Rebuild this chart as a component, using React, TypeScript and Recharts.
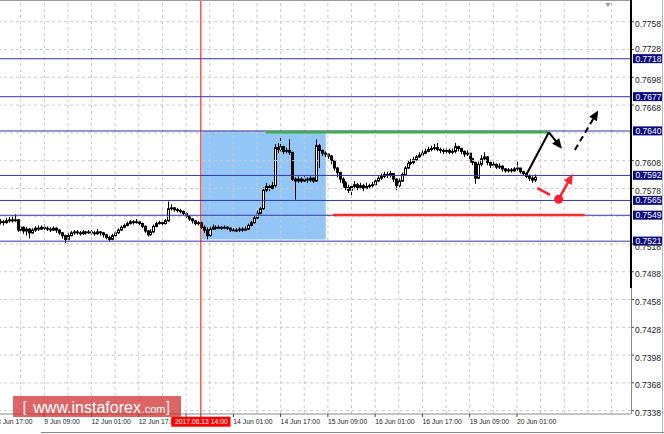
import React from "react";
import {
  ComposedChart,
  Bar,
  XAxis,
  YAxis,
  ReferenceLine,
  ReferenceArea,
  ReferenceDot,
} from "recharts";

const FONT = "'Liberation Sans', Arial, sans-serif";

// ---------- DATA (prices as pips above 0.7500) ----------
const BASE_PRICE = 0.75;
const FIRST_BAR = 1; // bar index 0 = 8 Jun 17:00 (H1 bars)
const FIRST_OPEN = 41;

const closePips = [
  42, 41, 43, 44, 43, 44, 33, 36, 32, 34,
  30, 33, 35, 34, 36, 35, 34, 33, 35, 33,
  30, 27, 23, 27, 30, 31, 30, 29, 31, 30,
  31, 30, 29, 31, 30, 28, 25, 23, 27, 30,
  33, 36, 38, 40, 42, 41, 42, 40, 37, 32,
  28, 31, 37, 40, 41, 40, 43, 56, 57, 55,
  54, 53, 51, 48, 45, 43, 40, 41, 36, 33,
  27, 34, 36, 35, 36, 35, 36, 35, 33, 32,
  33, 34, 33, 34, 38, 41, 46, 51, 56, 76,
  80, 78, 81, 122, 120, 123, 118, 119, 117, 88,
  86, 88, 86, 88, 87, 89, 86, 124, 119, 116,
  115, 113, 108, 100, 95, 88, 84, 79, 76, 80,
  82, 79, 81, 78, 80, 81, 82, 86, 89, 91,
  93, 92, 94, 88, 81, 86, 93, 100, 105, 106,
  109, 112, 114, 116, 118, 120, 121, 122, 120, 119,
  118, 119, 117, 118, 123, 121, 118, 115, 116, 110,
  106, 89, 104, 110, 112, 106, 103, 104, 101, 102,
  99, 97, 98, 97, 99, 100, 96, 94, 91, 89,
  87, 90,
];

const highPips = [
  45, 44, 46, 47, 49, 50, 45, 38, 37, 36,
  35, 35, 37, 38, 38, 39, 37, 36, 37, 36,
  34, 31, 28, 30, 32, 33, 33, 32, 33, 32,
  33, 33, 32, 34, 32, 31, 29, 27, 29, 32,
  35, 38, 40, 42, 44, 44, 45, 43, 41, 38,
  33, 34, 39, 42, 43, 43, 45, 64, 61, 58,
  57, 56, 54, 52, 49, 46, 44, 43, 42, 38,
  36, 37, 39, 38, 38, 37, 38, 37, 36, 35,
  35, 36, 36, 37, 40, 43, 48, 54, 58, 79,
  84, 82, 85, 126, 127, 135, 124, 122, 131, 117,
  90, 91, 90, 91, 90, 91, 90, 131, 126, 120,
  118, 116, 114, 109, 101, 96, 90, 86, 82, 82,
  86, 84, 84, 83, 84, 83, 85, 88, 91, 94,
  96, 96, 97, 94, 89, 89, 95, 102, 108, 110,
  112, 114, 117, 119, 121, 123, 124, 126, 127, 122,
  121, 122, 121, 121, 127, 124, 122, 119, 119, 116,
  111, 107, 107, 114, 117, 113, 107, 107, 105, 105,
  103, 100, 100, 100, 101, 107, 100, 97, 95, 93,
  91, 93,
];

const lowPips = [
  39, 38, 40, 41, 41, 42, 31, 30, 29, 27,
  24, 29, 31, 32, 33, 33, 32, 31, 32, 30,
  28, 24, 19, 22, 26, 28, 28, 27, 28, 28,
  29, 28, 27, 28, 27, 25, 23, 21, 22, 26,
  29, 32, 35, 37, 39, 39, 40, 38, 35, 30,
  26, 27, 30, 36, 39, 38, 39, 42, 54, 53,
  52, 51, 49, 46, 43, 40, 38, 38, 34, 30,
  23, 26, 33, 33, 34, 33, 34, 33, 31, 30,
  31, 31, 31, 32, 33, 37, 40, 45, 50, 55,
  74, 75, 77, 79, 116, 118, 115, 116, 114, 86,
  66, 84, 84, 85, 84, 85, 84, 85, 100, 113,
  112, 110, 104, 97, 90, 84, 79, 76, 73, 68,
  77, 76, 77, 75, 77, 78, 79, 81, 85, 87,
  89, 89, 90, 85, 76, 79, 85, 92, 99, 103,
  104, 108, 111, 113, 115, 117, 118, 119, 118, 116,
  115, 116, 115, 115, 116, 118, 115, 112, 113, 106,
  103, 83, 88, 102, 108, 103, 100, 101, 99, 99,
  96, 95, 95, 95, 96, 97, 94, 92, 89, 86,
  84, 85,
];

const levelPrices = [0.7718, 0.7677, 0.764, 0.7592, 0.7565, 0.7549, 0.7521];
const gridPrices = [
  0.7338, 0.7368, 0.7398, 0.7428, 0.7458, 0.7488, 0.7518, 0.7548,
  0.7578, 0.7608, 0.7638, 0.7668, 0.7698, 0.7728, 0.7758,
];
const priceTicks = [
  0.7338, 0.7368, 0.7398, 0.7428, 0.7458, 0.7488, 0.7518,
  0.7578, 0.7608, 0.7668, 0.7698, 0.7728, 0.7758,
];
const gridBars = [
  0, 8, 16, 24, 32, 40, 48, 56, 64, 72, 80, 88, 96, 104, 112, 120,
  128, 136, 144, 152, 160, 168, 176, 184, 192, 200, 208,
];
const timeTickBars = [0, 16, 32, 48, 64, 80, 96, 112, 128, 144, 160, 176];
const timeTickLabels = [
  "8 Jun 17:00", "9 Jun 09:00", "12 Jun 01:00", "12 Jun 17:00",
  "13 Jun 09:00", "14 Jun 01:00", "14 Jun 17:00", "15 Jun 09:00",
  "16 Jun 01:00", "16 Jun 17:00", "19 Jun 09:00", "20 Jun 01:00",
];
const markerBar = 69;
const markerLabel = "2017.06.13 14:00";

const rangeBox = { bar1: 69.3, bar2: 111.3, price1: 0.75229, price2: 0.764 };
const resistanceSeg = { bar1: 91.0, bar2: 186.8, price: 0.76386 };
const supportSeg = { bar1: 113.7, bar2: 199.0, price: 0.75493 };
const blackUp = [{ bar: 179.3, price: 0.75935 }, { bar: 186.8, price: 0.76386 }];
const blackDown = [{ bar: 186.8, price: 0.76386 }, { bar: 191.2, price: 0.76209 }];
const blackDashed = [{ bar: 195.6, price: 0.76195 }, { bar: 203.5, price: 0.76622 }];
const redDash = [{ bar: 182.9, price: 0.75783 }, { bar: 187.2, price: 0.7571 }];
const redDot = { bar: 190.1, price: 0.75663 };
const redArrow = [{ bar: 190.1, price: 0.75663 }, { bar: 194.9, price: 0.75935 }];

const X_DOMAIN: [number, number] = [0, 214.6];
const Y_DOMAIN: [number, number] = [0.73344, 0.778035];

// ---------- table for the chart ----------
const bars = closePips.map((c, k) => {
  const openP = k === 0 ? FIRST_OPEN : closePips[k - 1];
  const open = BASE_PRICE + openP / 10000;
  const close = BASE_PRICE + c / 10000;
  const high = Math.max(BASE_PRICE + highPips[k] / 10000, open, close);
  const low = Math.min(BASE_PRICE + lowPips[k] / 10000, open, close);
  return { bar: FIRST_BAR + k, open, close, high, low, range: [low, high] };
});

const Candle = (props: any) => {
  const { x, y, width, height, payload } = props;
  if (payload == null || height == null) return null;
  const { open, close, high, low } = payload;
  const cx = Math.round(x + width / 2) + 0.5;
  const span = high - low;
  const yAt = (p: number) => (span === 0 ? y : y + ((high - p) / span) * height);
  const yo = yAt(open);
  const yc = yAt(close);
  const top = Math.min(yo, yc);
  const bot = Math.max(yo, yc);
  const bull = close >= open;
  return (
    <g>
      <line x1={cx} x2={cx} y1={y} y2={y + height} stroke="#000" strokeWidth={1} />
      <rect
        x={cx - 1}
        y={top}
        width={2}
        height={Math.max(bot - top, 0.6)}
        fill={bull ? "#fff" : "#000"}
        stroke="#000"
        strokeWidth={1}
      />
    </g>
  );
};

const makeArrow = (color: string, width: number, dash?: string, head = true) => (p: any) => {
  const { x1, y1, x2, y2 } = p;
  const dx = x2 - x1;
  const dy = y2 - y1;
  const len = Math.hypot(dx, dy) || 1;
  const ux = dx / len;
  const uy = dy / len;
  const hl = 10;
  const hw = 4.5;
  const bx = x2 - ux * hl;
  const by = y2 - uy * hl;
  return (
    <g>
      <line
        x1={x1}
        y1={y1}
        x2={head ? bx + ux : x2}
        y2={head ? by + uy : y2}
        stroke={color}
        strokeWidth={width}
        strokeDasharray={dash}
      />
      {head && (
        <polygon
          points={`${x2},${y2} ${bx - uy * hw},${by + ux * hw} ${bx + uy * hw},${by - ux * hw}`}
          fill={color}
        />
      )}
    </g>
  );
};

const LevelTag = (props: any) => {
  const vb = props.viewBox || {};
  const x = (vb.x || 0) + (vb.width || 0);
  const y = vb.y || 0;
  return (
    <g>
      <rect x={x + 2} y={y - 4.6} width={30} height={9} fill="#0a0a80" />
      <text
        x={x + 4.5}
        y={y}
        dominantBaseline="central"
        fontSize={8.5}
        fontFamily={FONT}
        fill="#fff"
      >
        {props.text}
      </text>
    </g>
  );
};

const TimeTick = (props: any) => {
  const { x, y, payload } = props;
  const v = payload.value;
  if (v === markerBar) {
    return (
      <g>
        <rect x={x - 29.6} y={y - 2.3} width={59.3} height={10} fill="#ff0000" />
        <text
          x={x + 0.5}
          y={y + 2.7}
          textAnchor="middle"
          dominantBaseline="central"
          fontSize={6.8}
          fontFamily={FONT}
          fill="#fff"
        >
          {markerLabel}
        </text>
      </g>
    );
  }
  const k = timeTickBars.indexOf(v);
  if (k < 0) return null;
  // the label lying fully under the marker tag is hidden, as in the terminal
  const markerX = x + ((markerBar - v) / (X_DOMAIN[1] - X_DOMAIN[0])) * 634;
  if (x > markerX - 30 && x < markerX + 30) return null;
  return (
    <text
      x={x}
      y={y + 2.7}
      dominantBaseline="central"
      fontSize={6.8}
      fontFamily={FONT}
      fill="#222"
    >
      {timeTickLabels[k]}
    </text>
  );
};

const PriceTick = (props: any) => {
  const { x, y, payload } = props;
  const v = Number(payload.value);
  // nudge the label up when a level tag sits right under it
  const crowded = levelPrices.some((lv) => lv < v && v - lv < 0.0012);
  return (
    <text
      x={x}
      y={y + (crowded ? -0.6 : 2.6)}
      dominantBaseline="central"
      fontSize={8.5}
      fontFamily={FONT}
      fill="#222"
    >
      {v.toFixed(4)}
    </text>
  );
};

const GRID = "#c9c9c9";
const xTicks = [...timeTickBars, markerBar];

export default function App() {
  return (
    <div
      style={{
        position: "absolute",
        left: 0,
        top: 0,
        width: 664,
        height: 434,
        background: "#fff",
        overflow: "hidden",
      }}
    >
      <ComposedChart
        width={664}
        height={434}
        data={bars}
        margin={{ top: 1, right: 0, bottom: 0, left: -3 }}
      >
        <ReferenceArea
          x1={rangeBox.bar1}
          x2={rangeBox.bar2}
          y1={rangeBox.price1}
          y2={rangeBox.price2}
          fill="#92c6f7"
          fillOpacity={1}
          stroke="none"
        />
        {gridBars.map((b) => (
          <ReferenceLine key={"gx" + b} x={b} stroke={GRID} strokeDasharray="3 3" />
        ))}
        {gridPrices.map((p) => (
          <ReferenceLine key={"gy" + p} y={p} stroke={GRID} strokeDasharray="3 3" />
        ))}
        <ReferenceLine x={markerBar} stroke="#ff0000" strokeWidth={1} />
        {levelPrices.map((p) => (
          <ReferenceLine
            key={"lv" + p}
            y={p}
            stroke="#3434a4"
            strokeWidth={1}
            label={<LevelTag text={p.toFixed(4)} />}
          />
        ))}
        <ReferenceLine
          segment={[
            { x: resistanceSeg.bar1, y: resistanceSeg.price },
            { x: resistanceSeg.bar2, y: resistanceSeg.price },
          ]}
          stroke="#3db03d"
          strokeWidth={2.5}
        />
        <ReferenceLine
          segment={[
            { x: supportSeg.bar1, y: supportSeg.price },
            { x: supportSeg.bar2, y: supportSeg.price },
          ]}
          stroke="#ff2b2b"
          strokeWidth={2.5}
        />
        <XAxis
          dataKey="bar"
          type="number"
          domain={X_DOMAIN}
          allowDataOverflow
          ticks={xTicks}
          interval={0}
          height={20}
          tickSize={3}
          tickMargin={2}
          tickLine={{ stroke: "#444" }}
          axisLine={{ stroke: "#888" }}
          tick={<TimeTick />}
        />
        <YAxis
          type="number"
          orientation="right"
          domain={Y_DOMAIN}
          allowDataOverflow
          ticks={priceTicks}
          interval={0}
          width={33}
          tickSize={3}
          tickMargin={1}
          axisLine={false}
          tickLine={{ stroke: "#444" }}
          tick={<PriceTick />}
        />
        <Bar
          dataKey="range"
          barSize={3}
          isAnimationActive={false}
          shape={<Candle />}
        />
        <ReferenceLine
          segment={[{ x: blackUp[0].bar, y: blackUp[0].price }, { x: blackUp[1].bar, y: blackUp[1].price }]}
          shape={makeArrow("#000", 2, undefined, false)}
        />
        <ReferenceLine
          segment={[{ x: blackDown[0].bar, y: blackDown[0].price }, { x: blackDown[1].bar, y: blackDown[1].price }]}
          shape={makeArrow("#000", 2)}
        />
        <ReferenceLine
          segment={[{ x: blackDashed[0].bar, y: blackDashed[0].price }, { x: blackDashed[1].bar, y: blackDashed[1].price }]}
          shape={makeArrow("#000", 2, "6 4")}
        />
        <ReferenceLine
          segment={[{ x: redDash[0].bar, y: redDash[0].price }, { x: redDash[1].bar, y: redDash[1].price }]}
          shape={makeArrow("#ff1f2f", 2.5, undefined, false)}
        />
        <ReferenceLine
          segment={[{ x: redArrow[0].bar, y: redArrow[0].price }, { x: redArrow[1].bar, y: redArrow[1].price }]}
          shape={makeArrow("#ff1f2f", 2.5)}
        />
        <ReferenceDot
          x={redDot.bar}
          y={redDot.price}
          r={4.5}
          fill="#ff1f2f"
          stroke="none"
        />
      </ComposedChart>

      {/* frame decorations */}
      <div style={{ position: "absolute", left: 0, top: 0, width: 631, height: 1, background: "#9a9a9a" }} />
      <div style={{ position: "absolute", left: 630, top: 0, width: 2, height: 288, background: "#000" }} />
      <div style={{ position: "absolute", left: 631, top: 288, width: 1, height: 126, background: "#8a8a8a" }} />
      <div style={{ position: "absolute", left: 662, top: 0, width: 1, height: 434, background: "#b4b8c8" }} />
      <div style={{ position: "absolute", left: 41, top: 432, width: 623, height: 1, background: "#8a8a8a" }} />
      <div
        style={{
          position: "absolute",
          left: 605,
          top: 3,
          width: 0,
          height: 0,
          borderLeft: "3px solid transparent",
          borderRight: "3px solid transparent",
          borderTop: "4px solid #a0a0a0",
        }}
      />

      {/* watermark */}
      <div
        style={{
          position: "absolute",
          left: 13,
          top: 396,
          width: 168,
          height: 21,
          background: "rgba(210,50,50,0.75)",
          color: "#fff",
          fontFamily: FONT,
          whiteSpace: "pre",
        }}
      >
        <span style={{ position: "absolute", left: 9.7, top: 4.1, fontSize: 14, lineHeight: "14px" }}>[</span>
        <span style={{ position: "absolute", left: 20.3, top: 3.5, fontSize: 16, lineHeight: "16px" }}>www.instaforex</span>
        <span style={{ position: "absolute", left: 128.7, top: 7.7, fontSize: 11, lineHeight: "11px" }}>.com</span>
        <span style={{ position: "absolute", left: 153, top: 4.1, fontSize: 14, lineHeight: "14px" }}>]</span>
      </div>
    </div>
  );
}
